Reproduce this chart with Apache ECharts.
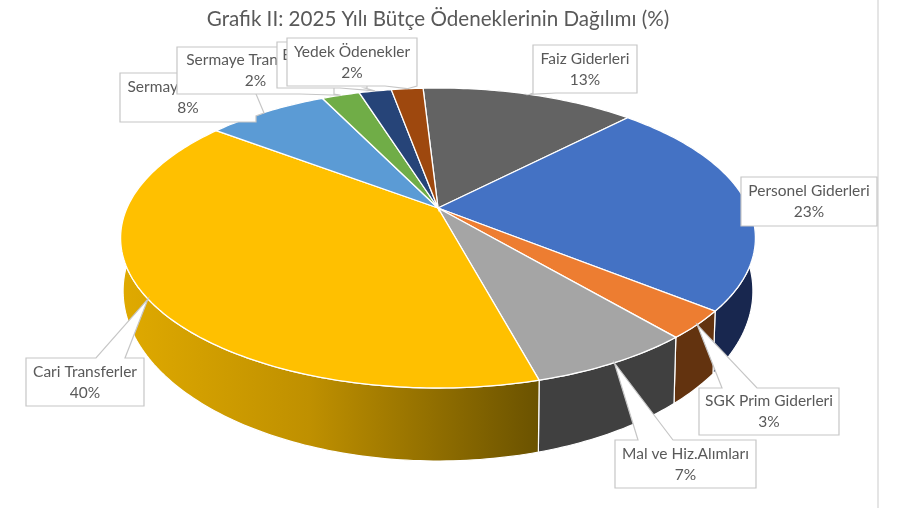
<!DOCTYPE html>
<html><head><meta charset="utf-8">
<style>html,body{margin:0;padding:0;background:#fff}#c{width:900px;height:508px}</style>
<script src="https://cdn.jsdelivr.net/npm/echarts@6/dist/echarts.min.js"></script>
</head><body><div id="c"></div>
<script>
const titleText = 'Grafik II: 2025 Yılı Bütçe Ödeneklerinin Dağılımı (%)';
const categories = ['Faiz Giderleri','Personel Giderleri','SGK Prim Giderleri','Mal ve Hiz.Alımları','Cari Transferler','Sermaye Giderleri','Sermaye Transferleri','Borç Verme','Yedek Ödenekler'];
const values = [13.2,23.49,3,7,39.5,7.5,2.35,2,1.96];
const topColors = ['#636363','#4472C4','#ED7D31','#A5A5A5','#FFC000','#5B9BD5','#70AD47','#264478','#9E480E'];
const sideLight = ['#3d3d3d','#1f3468','#7a3f10','#484848','#E0AA00','#386a96','#4a7530','#182c50','#6b300a'];
const sideMid   = ['#3d3d3d','#1c2d5c','#70390f','#444444','#BF9000','#386a96','#4a7530','#182c50','#6b300a'];
const sideDark  = ['#3d3d3d','#18274f','#63330f','#404040','#6a5200','#386a96','#4a7530','#182c50','#6b300a'];
// label boxes: x, y, w, h, wedge base on the top or bottom edge (b), optional wedge on the right edge (r)
const boxes = [
  {x:533,y:45,w:104,h:48,b:[533,556]},
  {x:741,y:177,w:136,h:49},
  {x:699,y:388,w:140,h:47,b:[722,757]},
  {x:615,y:440,w:141,h:48,b:[638,673]},
  {x:26,y:358,w:118,h:48,b:[96,125]},
  {x:120,y:73,w:136,h:49,r:[94,116,264,113]},
  {x:177,y:47,w:157,h:47,b:[300,334]},
  {x:277,y:42,w:90,h:46,b:[340,365]},
  {x:287,y:38,w:130,h:48,b:[385,417]}
];
const startDeg = -3.3;
const disc = {cx:438,cy:208,A:311,B:144,k:-0.2};
const rim = {topCy:238,botCy:291,sx:315/317.5,sy:170/150};
const total = values.reduce((a,b)=>a+b,0);
const starts = []; values.reduce((acc,v,i)=>{starts[i]=acc;return acc+v;},0);
const deg = v => v/total*360;
function topPt(theta){
  const t=theta*Math.PI/180,u=Math.sin(t),v=-Math.cos(t),d=1+disc.k*v;
  return [disc.cx+disc.A*u/d,disc.cy+disc.B*v/d];
}
function botPt(theta){
  const p=topPt(theta);
  return [disc.cx+rim.sx*(p[0]-disc.cx),rim.botCy+rim.sy*(p[1]-rim.topCy)];
}
function arc(fn,a,b){
  const n=Math.max(2,Math.ceil(Math.abs(b-a))),pts=[];
  for(let i=0;i<=n;i++)pts.push(fn(a+(b-a)*i/n));
  return pts;
}
function range(i){const a=startDeg+deg(starts[i]);return [a,a+deg(values[i])];}
const chart=echarts.init(document.getElementById('c'),null,{renderer:'canvas'});
const seriesData=values.map((v,i)=>({name:categories[i],value:v}));
function renderSide(params){
  const i=params.dataIndex,[a,b]=range(i);
  const pts=arc(topPt,a,b).concat(arc(botPt,a,b).reverse());
  return {type:'polygon',shape:{points:pts},style:{
    fill:{type:'linear',x:120,y:0,x2:540,y2:0,global:true,colorStops:[{offset:0,color:sideLight[i]},{offset:0.45,color:sideMid[i]},{offset:1,color:sideDark[i]}]},
    stroke:'#fff',lineWidth:1.2}};
}
function renderTop(params){
  const i=params.dataIndex,[a,b]=range(i);
  const pts=[[disc.cx,disc.cy]].concat(arc(topPt,a,b));
  return {type:'polygon',shape:{points:pts},style:{fill:topColors[i],stroke:'#fff',lineWidth:1.3}};
}
function renderLabel(params,api){
  const i=params.dataIndex,[a,b]=range(i),bx=boxes[i];
  const tip=topPt((a+b)/2);
  const R=bx.x+bx.w,B=bx.y+bx.h;
  const above=bx.b && tip[1]<bx.y;
  const pts=[[bx.x,bx.y]];
  if(above)pts.push([bx.b[0],bx.y],tip,[bx.b[1],bx.y]);
  pts.push([R,bx.y]);
  if(bx.r)pts.push([R,bx.r[0]],[bx.r[2],bx.r[3]],[R,bx.r[1]]);
  pts.push([R,B]);
  if(bx.b && !above)pts.push([bx.b[1],B],tip,[bx.b[0],B]);
  pts.push([bx.x,B]);
  return {type:'group',children:[
    {type:'polygon',shape:{points:pts},style:{fill:'#fff',stroke:'#c6c6c6',lineWidth:1.2}},
    {type:'text',style:{x:bx.x+bx.w/2,y:bx.y+bx.h/2,text:categories[i]+'\n'+Math.round(api.value(0))+'%',
      fill:'#595959',font:'15.5px Lato, "Open Sans", sans-serif',align:'center',verticalAlign:'middle',lineHeight:21}}
  ]};
}
chart.setOption({
  animation:false,
  backgroundColor:'#fff',
  title:{text:titleText,left:433,top:4,textAlign:'center',textStyle:{fontFamily:'Lato, "Open Sans", sans-serif',fontSize:20.6,fontWeight:'normal',color:'#595959'}},
  graphic:[{type:'line',shape:{x1:878,y1:0,x2:878,y2:508},style:{stroke:'#d4d4d4',lineWidth:1.2},silent:true}],
  series:[
    {type:'custom',coordinateSystem:'none',z:1,data:seriesData,renderItem:renderSide,silent:true},
    {type:'custom',coordinateSystem:'none',z:2,data:seriesData,renderItem:renderTop,silent:true},
    {type:'custom',coordinateSystem:'none',z:3,data:seriesData,renderItem:renderLabel,silent:true}
  ]
});
</script></body></html>
